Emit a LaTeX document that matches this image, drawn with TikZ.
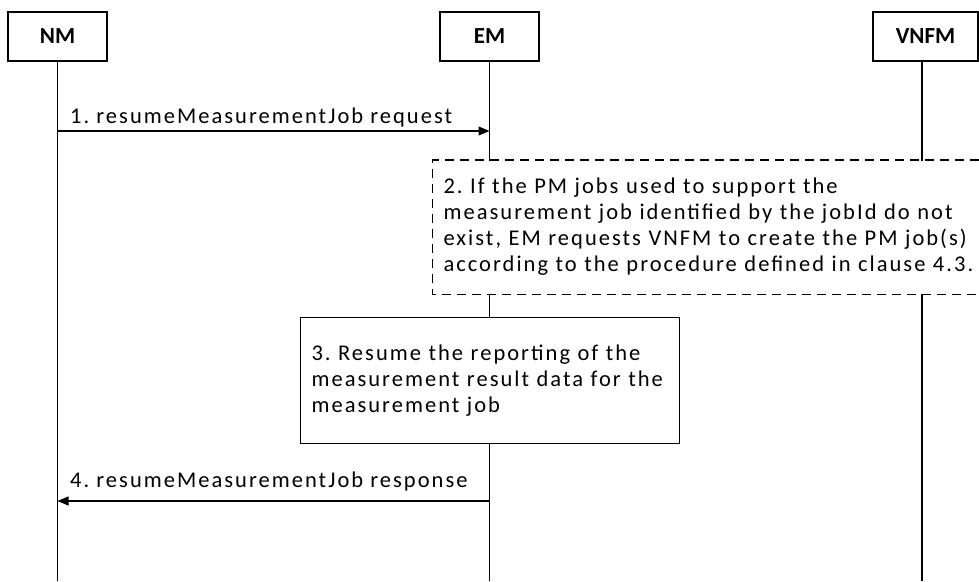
\documentclass[tikz,border=0pt]{standalone}
\usepackage{fontspec}
\setmainfont{Carlito}[LetterSpace=9]
\newfontfamily\boldlbl{Carlito}[LetterSpace=0]
\usetikzlibrary{arrows.meta}
\begin{document}
\frenchspacing
\begin{tikzpicture}[x=1pt,y=-1pt,
  every node/.style={font=\fontsize{22.5}{26}\selectfont},
  actor/.style={draw, line width=1.1pt, fill=white, inner sep=0pt, minimum height=49pt, font=\fontsize{23}{26}\selectfont\boldlbl\bfseries},
  lifeline/.style={line width=1.1pt},
  msg/.style={line width=1.1pt, -{Triangle[length=11pt,width=9pt]}},
  frame/.style={line width=1.1pt, fill=white, inner ysep=0pt, anchor=north west, align=left},
  lbl/.style={anchor=base west, inner sep=0pt}]
\useasboundingbox (0,0) rectangle (979,581);
% actors
\node[actor, minimum width=99pt] (nm) at (57.5,36.5) {NM};
\node[actor, minimum width=99pt] (em) at (489.5,36.5) {EM};
\node[actor, minimum width=105pt] (vnfm) at (925.5,36.5) {VNFM};
\coordinate (bot) at (0,581);
\coordinate (vnfmx) at (922,0);
\coordinate (redge) at (979,0);
\draw[lifeline] (nm.south) -- (nm.south |- bot);
\draw[lifeline] (em.south) -- (em.south |- bot);
\draw[lifeline] (vnfmx |- vnfm.south) -- (vnfmx |- bot);
% step 1
\coordinate (y1) at (0,131);
\draw[msg] (nm.south |- y1) -- (em.south |- y1);
\node[lbl] (l1) at (70,123) {1. resumeMeasurementJob request};
% step 2
\node[frame, inner xsep=10.5pt, text width=540pt, minimum height=133pt] (s2) at (432.5,160) {2. If the PM jobs used to support the\\measurement job identified by the jobId do not\\exist, EM requests VNFM to create the PM job(s)\\according to the procedure defined in clause 4.3.};
\draw[line width=1.1pt, dash pattern=on 9pt off 6pt] (s2.north -| redge) -- (s2.north west) -- (s2.south west) -- (s2.south -| redge);
% step 3
\node[frame, draw, inner xsep=11pt, text width=357pt, minimum height=126pt] (s3) at (300,317) {3. Resume the reporting of the\\measurement result data for the\\measurement job};
% step 4
\coordinate (y4) at (0,501);
\draw[msg] (em.south |- y4) -- (nm.south |- y4);
\node[lbl] (l4) at (70,487) {4. resumeMeasurementJob response};
\end{tikzpicture}
\end{document}
